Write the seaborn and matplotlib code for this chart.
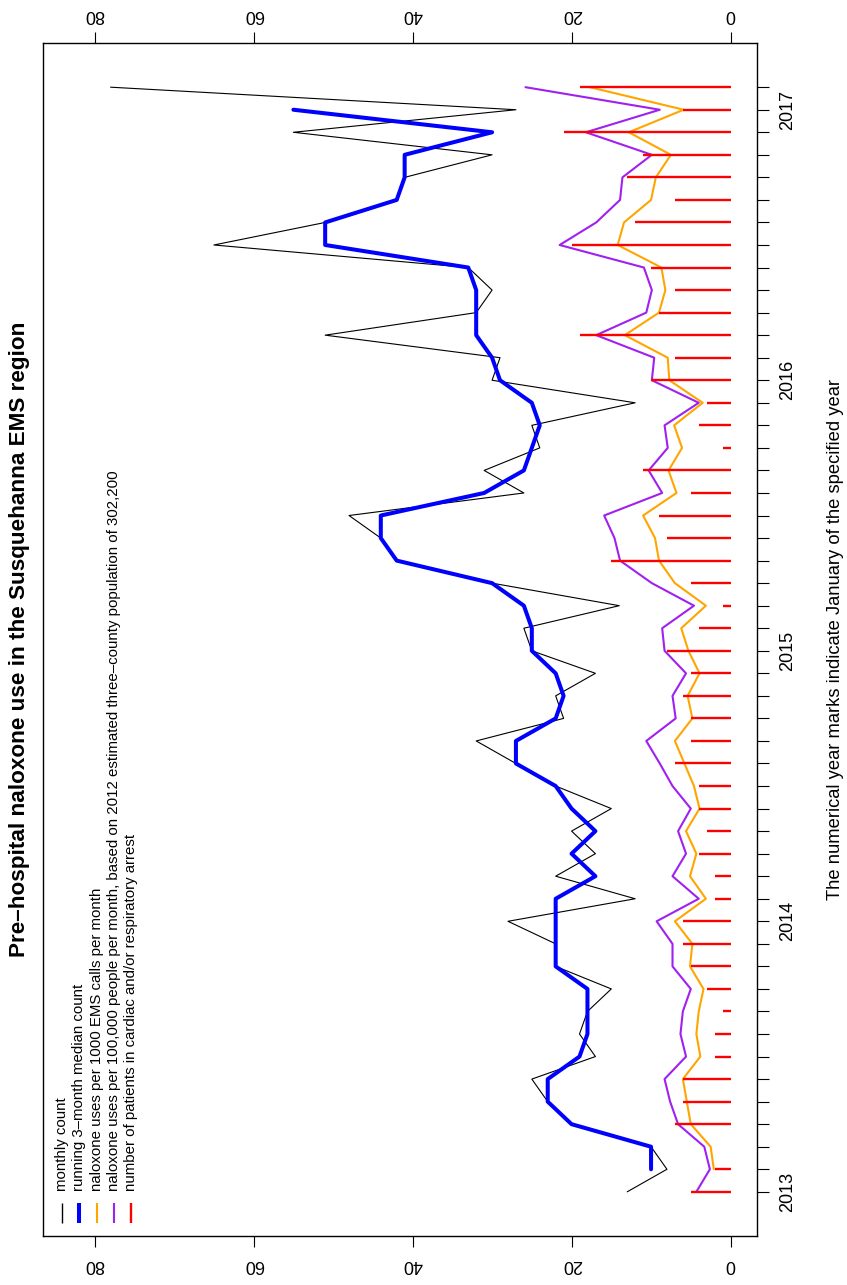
import numpy as np
import pandas as pd
import matplotlib
matplotlib.use("Agg")
import matplotlib.pyplot as plt
import seaborn as sns

sns.set_theme(style="white")
plt.rcParams['font.family'] = ['Liberation Sans', 'DejaVu Sans']

# ---------------- data ----------------
month_index = list(range(50))          # 0 = Jan 2013 ... 49 = Feb 2017
year_labels = ["2013", "2014", "2015", "2016", "2017"]
year_months = [0, 12, 24, 36, 48]
value_ticks = [0, 20, 40, 60, 80]

monthly_count = [13, 8, 10, 20, 23, 25, 17, 19, 18, 15,
                 22, 22, 28, 12, 22, 17, 20, 15, 22, 27,
                 32, 21, 22, 17, 25, 26, 14, 30, 42, 44,
                 48, 26, 31, 24, 25, 12, 30, 29, 51, 32,
                 30, 33, 65, 51, 42, 41, 30, 55, 27, 78]

median_3mo = [np.nan, 10, 10, 20, 23, 23, 19, 18, 18, 18,
              22, 22, 22, 22, 17, 20, 17, 20, 22, 27,
              27, 22, 21, 22, 25, 25, 26, 30, 42, 44,
              44, 31, 26, 25, 24, 25, 29, 30, 32, 32,
              32, 33, 51, 51, 42, 41, 41, 30, 55, np.nan]

per_1000_calls = [np.nan, 2.1, 2.5, 5.0, 5.5, 6.0, 3.8, 4.3, 4.0, 3.4,
                  5.1, 4.8, 7.0, 3.1, 5.1, 4.3, 5.6, 3.9, 4.6, 5.8,
                  7.0, 4.8, 5.4, 3.9, 5.3, 6.2, 3.1, 7.0, 9.0, 9.5,
                  11.0, 6.8, 7.8, 6.1, 7.1, 3.5, 7.7, 7.9, 13.3, 9.0,
                  8.2, 8.7, 14.2, 13.4, 10.0, 9.4, 7.5, 12.8, 5.9, 17.7]

per_100k_people = [4.3, 2.6, 3.3, 6.6, 7.6, 8.3, 5.6, 6.3, 6.0, 5.0,
                   7.3, 7.3, 9.3, 4.0, 7.3, 5.6, 6.6, 5.0, 7.3, 8.9,
                   10.6, 6.9, 7.3, 5.6, 8.3, 8.6, 4.6, 9.9, 13.9, 14.6,
                   15.9, 8.6, 10.3, 7.9, 8.3, 4.0, 9.9, 9.6, 16.9, 10.6,
                   9.9, 10.9, 21.5, 16.9, 13.9, 13.6, 9.9, 18.2, 8.9, 25.8]

arrest_patients = [5, 2, 0, 7, 6, 6, 2, 2, 1, 3,
                   5, 6, 6, 2, 2, 4, 3, 4, 4, 7,
                   5, 5, 6, 5, 8, 4, 1, 5, 15, 8,
                   9, 5, 11, 1, 4, 3, 10, 7, 19, 9,
                   7, 10, 20, 12, 7, 13, 11, 21, 6, 19]

legend_labels = [
    "monthly count",
    "running 3\u2013month median count",
    "naloxone uses per 1000 EMS calls per month",
    "naloxone uses per 100,000 people per month, based on 2012 estimated three\u2013county population of 302,200",
    "number of patients in cardiac and/or respiratory arrest",
]
series_colors = ["black", "#0000FF", "#FFA500", "#A020F0", "#FF0000"]
series_widths = [0.8, 2.9, 1.5, 1.5, 1.7]

title_text = "Pre\u2013hospital naloxone use in the Susquehanna EMS region"
xlabel_text = "The numerical year marks indicate January of the specified year"

# ---------------- figure ----------------
W, H = 847, 1285
fig = plt.figure(figsize=(W / 100, H / 100), dpi=100)
L, R, T, B = 43, 757, 43, 1236
ax = fig.add_axes([L / W, 1 - B / H, (R - L) / W, (B - T) / H])

df = pd.DataFrame({
    "month": month_index,
    "count": monthly_count,
    "median": median_3mo,
    "calls": per_1000_calls,
    "people": per_100k_people,
})

sns.lineplot(data=df, x="count", y="month", orient="y", sort=False, estimator=None,
             color=series_colors[0], lw=series_widths[0], ax=ax)
sns.lineplot(data=df.dropna(subset=["median"]), x="median", y="month", orient="y",
             sort=False, estimator=None, color=series_colors[1], lw=series_widths[1], ax=ax)
sns.lineplot(data=df.dropna(subset=["calls"]), x="calls", y="month", orient="y",
             sort=False, estimator=None, color=series_colors[2], lw=series_widths[2], ax=ax)
sns.lineplot(data=df, x="people", y="month", orient="y", sort=False, estimator=None,
             color=series_colors[3], lw=series_widths[3], ax=ax)
ax.hlines(month_index, 0, arrest_patients, color=series_colors[4], lw=series_widths[4], zorder=5)

ax.set_xlim(86.5, -3.33)
ax.set_ylim(-1.96, 50.96)
ax.set_xlabel("")
ax.set_ylabel("")
ax.grid(False)

# value axis: top and bottom, labels upside down
ax.set_xticks(value_ticks)
ax.set_xticklabels([str(v) for v in value_ticks])
ax.tick_params(axis="x", which="both", top=True, bottom=True, labeltop=True,
               labelbottom=True, direction="out", length=8.0, width=0.8,
               color="black", pad=6.5, labelsize=13, labelcolor="black")
for t in ax.xaxis.get_major_ticks():
    t.label2.set_rotation(180)
    t.label1.set_rotation(180)

# time axis on the right
ytext = [""] * len(month_index)
for m, lab in zip(year_months, year_labels):
    ytext[m] = lab
ax.yaxis.tick_right()
ax.set_yticks(month_index)
ax.set_yticklabels(ytext)
ax.tick_params(axis="y", left=False, right=True, labelleft=False, labelright=True,
               direction="out", length=8.6, width=0.8, color="black", pad=7.5,
               labelsize=13, labelcolor="black")
for t in ax.yaxis.get_major_ticks():
    t.label2.set_rotation(90)
    t.label2.set_verticalalignment("center")

for s in ax.spines.values():
    s.set_visible(True)
    s.set_color("black")
    s.set_linewidth(1.0)

# manual rotated legend (bottom-left)
for i, (lab, c, lw) in enumerate(zip(legend_labels, series_colors, series_widths)):
    xa = (62 + 17.3 * i - L) / (R - L)
    ax.plot([xa, xa], [(B - 1223) / (B - T), (B - 1203) / (B - T)],
            transform=ax.transAxes, color=c, lw=max(lw, 1.0), solid_capstyle="butt")
    ax.text(xa, (B - 1191) / (B - T), lab, rotation=90, ha="center", va="bottom",
            fontsize=10.8, color="black", transform=ax.transAxes)

ycen = 1 - ((T + B) / 2) / H
fig.text(20 / W, ycen, title_text, rotation=90, ha="center", va="center",
         fontsize=16.2, fontweight="bold", color="black")
fig.text(835 / W, ycen, xlabel_text, rotation=90, ha="center", va="center",
         fontsize=13.2, color="black")

fig.savefig("out.png", dpi=100, facecolor="white")
